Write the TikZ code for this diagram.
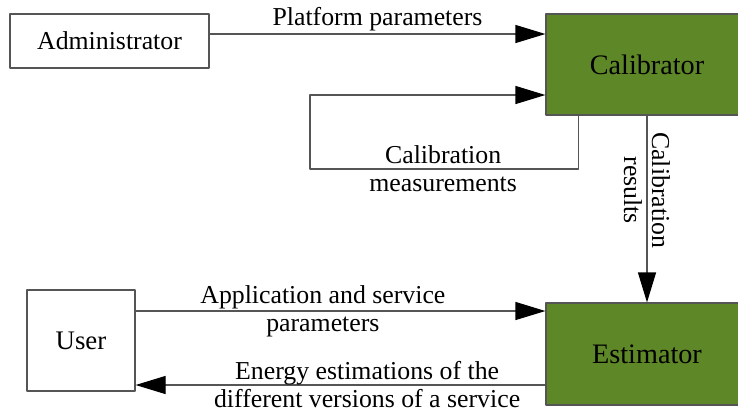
\documentclass[tikz,border=0pt]{standalone}
\usepackage{fontspec}
\setmainfont{Liberation Serif}
\usetikzlibrary{arrows.meta}
\definecolor{calgreen}{RGB}{94,135,40}
\definecolor{linegray}{RGB}{85,85,85}

\begin{document}
\begin{tikzpicture}[line join=round,x=0.5pt,y=-0.5pt,
    font=\fontsize{12.9}{14}\selectfont,
    box/.style={draw=linegray,line width=0.6pt,inner sep=0pt},
    unit/.style={box,fill=calgreen,font=\fontsize{14.1}{16}\selectfont},
    link/.style={draw=linegray,line width=0.6pt},
    flow/.style={link,-{Triangle[length=15pt,width=9pt,color=black]}},
    lbl/.style={align=center,inner sep=1pt}]
  \useasboundingbox (0,0) rectangle (738,414);
  \clip (0,0) rectangle (738,414);

  \node[box,minimum width=99.5pt,minimum height=27pt] (admin) at (109.5,41) {Administrator};
  \node[unit,minimum width=101pt,minimum height=50.5pt] (calib) at (647,64.5) {Calibrator};
  \node[unit,minimum width=101pt,minimum height=51pt] (estim) at (647,354) {Estimator};
  \node[box,minimum width=54pt,minimum height=50.5pt,font=\fontsize{13.4}{15}\selectfont] (user) at (81,340.5) {User};

  % upper part
  \coordinate (pp) at ([yshift=3.5pt]admin.east);
  \draw[flow] (pp) -- node[lbl,above,midway] {Platform parameters} (pp -| calib.west);
  \coordinate (lp) at ([xshift=16.5pt]calib.south west);
  \coordinate (li) at ([yshift=-15.25pt]calib.west);
  \draw[flow] (lp) |- node[lbl,pos=0.752] {Calibration\\measurements} (310,169) |- (li);
  \draw[flow] (calib.south) -- node[lbl,rotate=-90,pos=0.4] {Calibration\\results} (estim.north);

  % lower part
  \coordinate (ap) at ([yshift=14.75pt]user.east);
  \draw[flow] (ap) -- node[lbl,pos=0.457] {Application and service\\parameters} (ap -| estim.west);
  \coordinate (ee) at ([yshift=-15.5pt]estim.west);
  \draw[flow] (ee) -- node[lbl,pos=0.435] {Energy estimations of the\\different versions of a service} (ee -| user.east);
\end{tikzpicture}
\end{document}
